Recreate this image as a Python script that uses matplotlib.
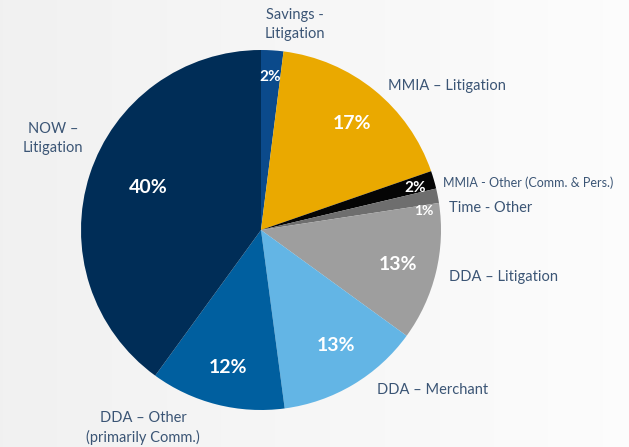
import matplotlib.pyplot as plt
import numpy as np

names = ['Savings -\nLitigation', 'MMIA – Litigation', 'MMIA - Other (Comm. & Pers.)',
         'Time - Other', 'DDA – Litigation', 'DDA – Merchant',
         'DDA – Other\n(primarily Comm.)', 'NOW –\nLitigation']
sizes = [2.0, 17.7, 1.6, 1.3, 12.4, 12.9, 12.1, 40.0]
pct_labels = ['2%', '17%', '2%', '1%', '13%', '13%', '12%', '40%']
colors = ['#0b4a8b', '#eaa900', '#050505', '#6e6e6e', '#9e9e9e', '#63b5e5', '#005f9f', '#002d57']

plt.rcParams['font.family'] = ['Lato', 'DejaVu Sans']
fig = plt.figure(figsize=(6.29, 4.47), dpi=100)

# soft horizontal background gradient
bg_ax = fig.add_axes([0, 0, 1, 1], zorder=-1)
grad = np.linspace(0.945, 0.99, 256).reshape(1, -1)
bg_ax.imshow(np.dstack([grad, grad, grad]), aspect='auto', extent=[0, 1, 0, 1])
bg_ax.axis('off')

# pie centre at about (261, 230) px, radius 180 px
ax = fig.add_axes([81/629, 37/447, 360/629, 360/447])
ax.patch.set_alpha(0)
wedges, _ = ax.pie(sizes, colors=colors, startangle=90, counterclock=False, radius=1)
ax.set_xlim(-1, 1)
ax.set_ylim(-1, 1)
ax.axis('off')

# percentage labels
pct_pos = [(0.05, 0.85), (0.506, 0.592), (0.856, 0.236), (0.906, 0.108),
           (0.761, -0.192), (0.417, -0.642), (-0.183, -0.764), (-0.628, 0.236)]
pct_fs = [11, 14, 11, 10, 14, 14, 14, 14]
for lab, (x, y), fs in zip(pct_labels, pct_pos, pct_fs):
    ax.text(x, y, lab, color='white', fontsize=fs, fontweight='bold',
            ha='center', va='center')

txt = '#3b5575'
# outside labels (x, y in axis units, alignment)
lab_pos = [(0.19, 1.14, 'center'), (0.705, 0.80, 'left'), (1.01, 0.265, 'left'),
           (1.045, 0.12, 'left'), (1.045, -0.26, 'left'), (0.645, -0.89, 'left'),
           (-0.655, -1.10, 'center'), (-1.155, 0.51, 'center')]
for name, (x, y, ha) in zip(names, lab_pos):
    fs = 9 if 'Pers' in name else 10.5
    ax.text(x, y, name, color=txt, fontsize=fs, ha=ha, va='center',
            linespacing=1.45, clip_on=False)

plt.savefig('out.png', dpi=100)
